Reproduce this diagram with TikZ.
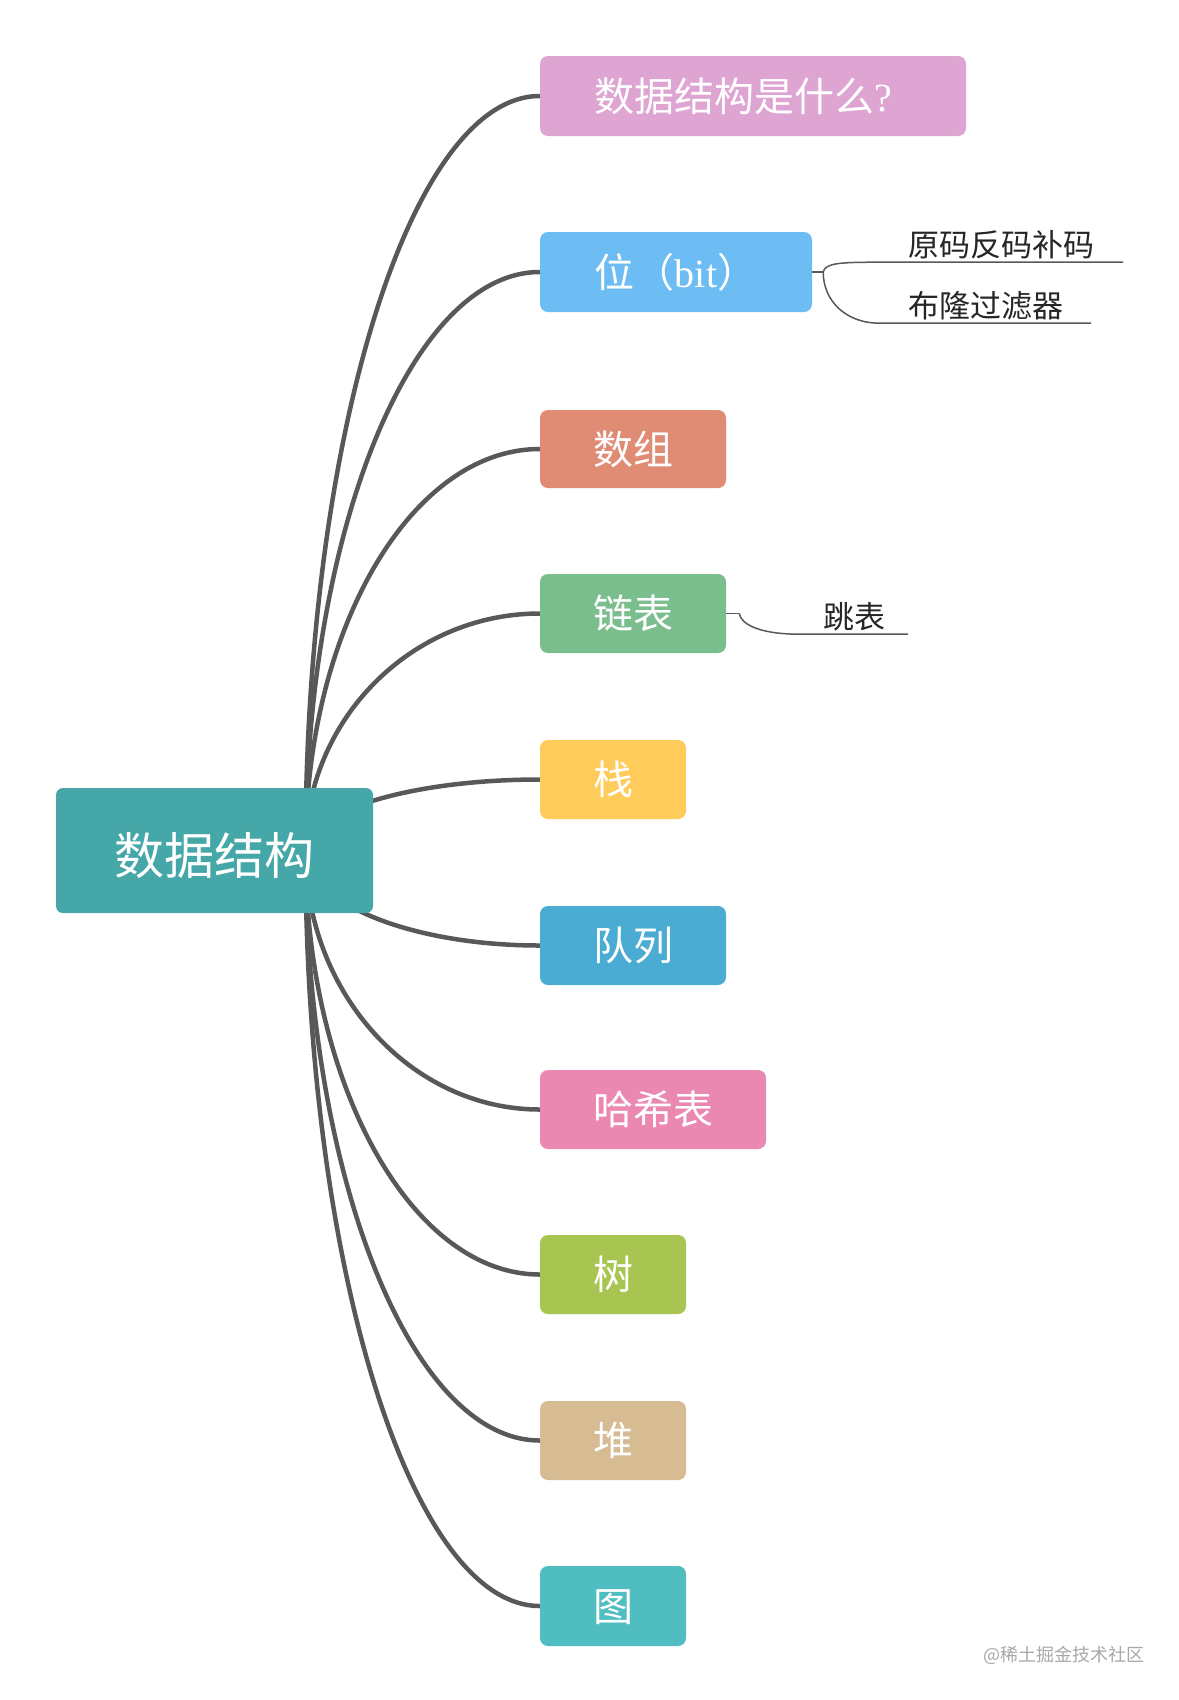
\documentclass[tikz,border=0pt]{standalone}
\usepackage{fontspec}
\setmainfont{Noto Sans CJK SC}
\newfontfamily\lserif{Liberation Serif}
\usetikzlibrary{calc}
\pgfdeclarelayer{bg}
\pgfdeclarelayer{paper}
\pgfsetlayers{paper,bg,main}
\definecolor{cRoot}{HTML}{45A7A8}
\definecolor{cA}{HTML}{DEA5D3}
\definecolor{cB}{HTML}{6DBCF3}
\definecolor{cC}{HTML}{E08B74}
\definecolor{cD}{HTML}{7BBE8D}
\definecolor{cE}{HTML}{FFCB5A}
\definecolor{cF}{HTML}{4AABD3}
\definecolor{cG}{HTML}{EA88B2}
\definecolor{cH}{HTML}{A7C550}
\definecolor{cI}{HTML}{D6BB93}
\definecolor{cJ}{HTML}{50BEC1}
\definecolor{cLine}{HTML}{585858}
\definecolor{cWm}{HTML}{A8A8A8}
\newcommand\mmcurve[2]{\draw[mainline] let \p1=(#1), \p2=(#2) in (#1) .. controls (\x1,{\y1+0.55*(\y2-\y1)}) and ({\x1+0.45*(\x2-\x1)},\y2) .. (#2);}
\begin{document}
\begin{tikzpicture}[x=1pt,y=-1pt,
  topic/.style={rounded corners=8pt, text=white, inner sep=0pt,
    font=\fontsize{40}{48}\selectfont, text height=30.4pt, text depth=0pt},
  roottopic/.style={rounded corners=7pt, text=white, inner sep=0pt, fill=cRoot,
    font=\fontsize{50}{60}\selectfont, text height=48pt, text depth=0pt},
  subtopic/.style={anchor=base, inner xsep=0pt, inner ysep=6pt, text=black!85,
    font=\fontsize{31}{36}\selectfont, text height=24pt, text depth=0pt},
  mainline/.style={draw=cLine, line width=4.5pt},
  subline/.style={draw=cLine, line width=1.5pt}]
\useasboundingbox (0,0) rectangle (1178,1700);
\begin{pgfonlayer}{paper}
\fill[white] (0,0) rectangle (1178,1700);
\end{pgfonlayer}
% root
\node[roottopic, minimum width=317pt, minimum height=125pt] (root) at (214.5,850.5) {数据结构};
% topics
\node[topic, fill=cA, minimum width=426pt, minimum height=80pt] (b1) at (753,96) {数据结构是什么{\lserif ?}\hspace*{20pt}};
\node[topic, fill=cB, minimum width=272pt, minimum height=80pt] (b2) at (676,272) {位（{\lserif bit}）};
\node[topic, fill=cC, minimum width=186pt, minimum height=78pt] (b3) at (633,449) {数组};
\node[topic, fill=cD, minimum width=186pt, minimum height=79pt] (b4) at (633,613.5) {链表};
\node[topic, fill=cE, minimum width=146pt, minimum height=79pt] (b5) at (613,779.5) {栈};
\node[topic, fill=cF, minimum width=186pt, minimum height=79pt] (b6) at (633,945.5) {队列};
\node[topic, fill=cG, minimum width=226pt, minimum height=79pt] (b7) at (653,1109.5) {哈希表};
\node[topic, fill=cH, minimum width=146pt, minimum height=79pt] (b8) at (613,1274.5) {树};
\node[topic, fill=cI, minimum width=146pt, minimum height=79pt] (b9) at (613,1440.5) {堆};
\node[topic, fill=cJ, minimum width=146pt, minimum height=80pt] (b10) at (613,1606) {图};
% main curves (behind the root)
\coordinate (hub) at ($(root.center)+(91,0)$);
\begin{pgfonlayer}{bg}
\mmcurve{hub}{b1.west}
\mmcurve{hub}{b2.west}
\mmcurve{hub}{b3.west}
\mmcurve{hub}{b4.west}
\mmcurve{hub}{b5.west}
\mmcurve{hub}{b6.west}
\mmcurve{hub}{b7.west}
\mmcurve{hub}{b8.west}
\mmcurve{hub}{b9.west}
\mmcurve{hub}{b10.west}
\end{pgfonlayer}
% sub topics
\node[subtopic, minimum width=243pt] (s1) at (1001.5,256) {原码反码补码};
\node[subtopic, minimum width=211pt] (s2) at (985.5,317) {布隆过滤器};
\node[subtopic, minimum width=108pt] (s3) at (854,628) {跳表};
\coordinate (k2) at ($(b2.east)+(11,0)$);
\coordinate (k4) at ($(b4.east)+(13,0)$);
\draw[subline] (b2.east) -- (k2);
\draw[subline] (k2) .. controls ($(k2)+(2,-9)$) and ($(s1.south west)+(-40,0)$) .. (s1.south west) -- (s1.south east);
\draw[subline] (k2) .. controls ($(k2)+(0,28)$) and ($(s2.south west)+(-35,0)$) .. (s2.south west) -- (s2.south east);
\draw[subline] (b4.east) -- (k4);
\draw[subline] (k4) .. controls ($(k4)+(2,11)$) and ($(s3.south west)+(-40,0)$) .. (s3.south west) -- (s3.south east);
% watermark
\node[anchor=base west, inner sep=0pt, text=cWm, font=\fontsize{18}{20}\selectfont] (wm) at (983,1661) {@稀土掘金技术社区};
\end{tikzpicture}
\end{document}
